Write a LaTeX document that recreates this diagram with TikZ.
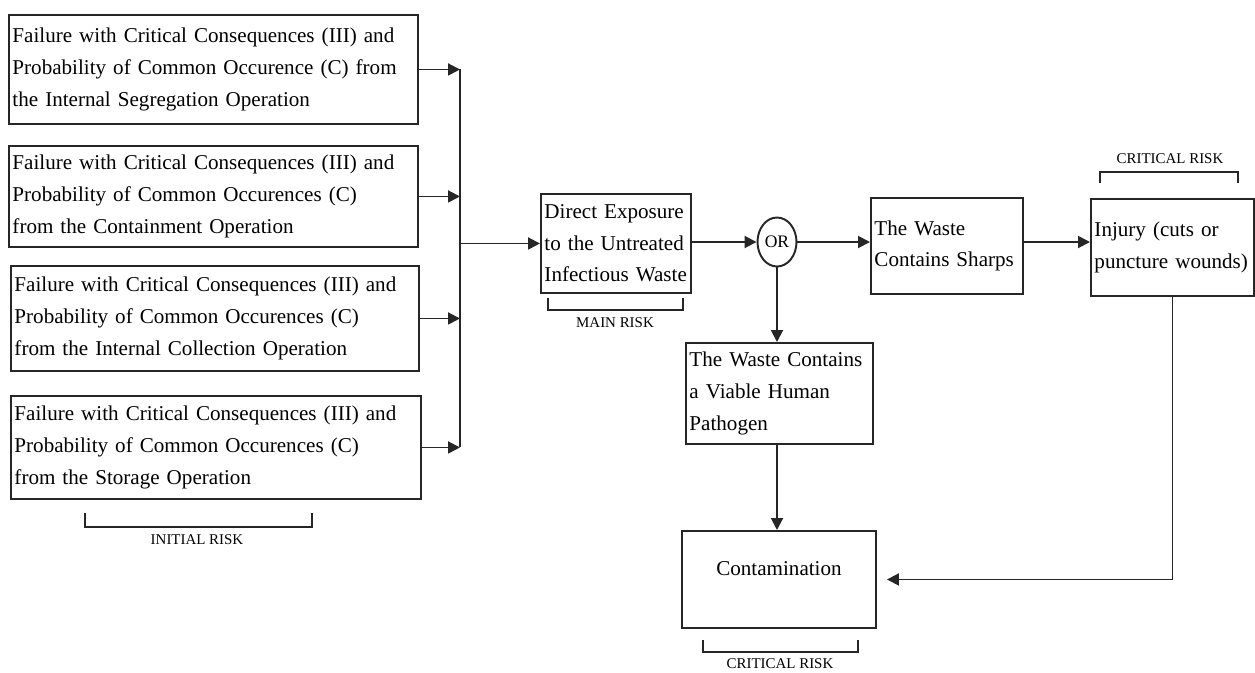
\documentclass[tikz,border=0pt]{standalone}
\usepackage{fontspec}
\setmainfont{Liberation Serif}
\usetikzlibrary{arrows.meta}
\usetikzlibrary{shapes.geometric}
\usepackage{xcolor}
\definecolor{boxline}{HTML}{262626}

\begin{document}
\begin{tikzpicture}[
		riskbox/.style={draw=boxline, line width=1.1pt, anchor=north west, align=left, inner sep=2pt, font=\fontsize{12}{18}\selectfont},
		riskarrow/.style={draw=boxline, line width=1.1pt, -{Triangle[length=2.4mm,width=2.4mm]}},
		riskline/.style={draw=boxline, line width=1.1pt},
		risklabel/.style={font=\fontsize{8.5}{9}\selectfont}]
		\useasboundingbox (0,0) rectangle (25.1,-13.44);
		\begin{scope}
			% initial failures
			\node (fail1) [riskbox, text width=8.04cm, minimum height=2.18cm] at (0.16,-0.28) {Failure with  Critical Consequences (III) and\\ Probability of Common Occurence (C) from\\ the Internal Segregation Operation};
			\node (fail2) [riskbox, text width=8.04cm, minimum height=2.02cm] at (0.16,-2.9) {Failure with Critical Consequences (III) and\\ Probability of Common Occurences (C)\\ from the Containment Operation};
			\node (fail3) [riskbox, text width=8.02cm, minimum height=2.1cm] at (0.2,-5.3) {Failure with Critical Consequences (III) and\\ Probability of Common Occurences (C)\\ from the Internal Collection Operation};
			\node (fail4) [riskbox, text width=8.06cm, minimum height=2.06cm] at (0.2,-7.9) {Failure with Critical Consequences (III) and\\ Probability of Common Occurences (C)\\ from the Storage Operation};
			%
			\coordinate (bus) at (9.2,0);
			\draw [riskarrow] (fail1.east) -- (fail1.east -| bus);
			\draw [riskarrow] (fail2.east) -- (fail2.east -| bus);
			\draw [riskarrow] (fail3.east) -- (fail3.east -| bus);
			\draw [riskarrow] (fail4.east) -- (fail4.east -| bus);
			\draw [riskline] (fail1.east -| bus) -- (fail4.east -| bus);
		\end{scope}
		\begin{scope}
			% main risk and its branches
			\node (direct) [riskbox, text width=2.86cm, minimum height=1.98cm] at (10.8,-3.86) {Direct Exposure\\ to the Untreated\\ Infectious Waste};
			\node (gate) [draw=boxline, line width=1.1pt, ellipse, inner sep=0pt, minimum width=0.78cm, minimum height=0.98cm, font=\fontsize{10}{12}\selectfont] at (15.54,-4.84) {OR};
			\node (sharps) [riskbox, text width=2.9cm, minimum height=1.92cm] at (17.4,-3.94) {The Waste\\ Contains Sharps};
			\node (injury) [riskbox, text width=3.12cm, minimum height=1.94cm] at (21.8,-3.96) {Injury (cuts or\\ puncture wounds)};
			\node (pathogen) [riskbox, text width=3.6cm, minimum height=2.02cm] at (13.7,-6.84) {The Waste Contains\\ a Viable Human\\ Pathogen};
			\node (contam) [riskbox, align=center, text width=3.74cm, minimum height=1.94cm, text depth=0.45cm] at (13.62,-10.6) {Contamination};
			%
			\draw [riskarrow] (bus |- direct.west) -- (direct.west);
			\draw [riskarrow] (direct.east |- gate.west) -- (gate.west);
			\draw [riskarrow] (gate.east) -- (gate.east -| sharps.west);
			\draw [riskarrow] (sharps.east |- gate.east) -- (gate.east -| injury.west);
			\draw [riskarrow] (gate.south) -- (gate.south |- pathogen.north);
			\draw [riskarrow] (gate.south |- pathogen.south) -- (gate.south |- contam.north);
			\draw [riskarrow, shorten >=2mm] (injury.south) |- (contam.east);
		\end{scope}
		\begin{scope}
			% risk brackets
			\draw [riskline] (1.7,-10.26) -- (1.7,-10.54) -- (6.24,-10.54) -- (6.24,-10.26);
			\node (initial) [risklabel] at (3.94,-10.8) {INITIAL RISK};
			%
			\draw [riskline] (10.96,-5.96) -- (10.96,-6.2) -- (13.66,-6.2) -- (13.66,-5.96);
			\node (mainrisk) [risklabel] at (12.3,-6.46) {MAIN RISK};
			%
			\draw [riskline] (22.0,-3.66) -- (22.0,-3.44) -- (24.76,-3.44) -- (24.76,-3.66);
			\node (critical1) [risklabel] at (23.4,-3.18) {CRITICAL RISK};
			%
			\draw [riskline] (14.06,-12.8) -- (14.06,-13.04) -- (17.16,-13.04) -- (17.16,-12.8);
			\node (critical2) [risklabel] at (15.6,-13.27) {CRITICAL RISK};
		\end{scope}
	\end{tikzpicture}
\end{document}
